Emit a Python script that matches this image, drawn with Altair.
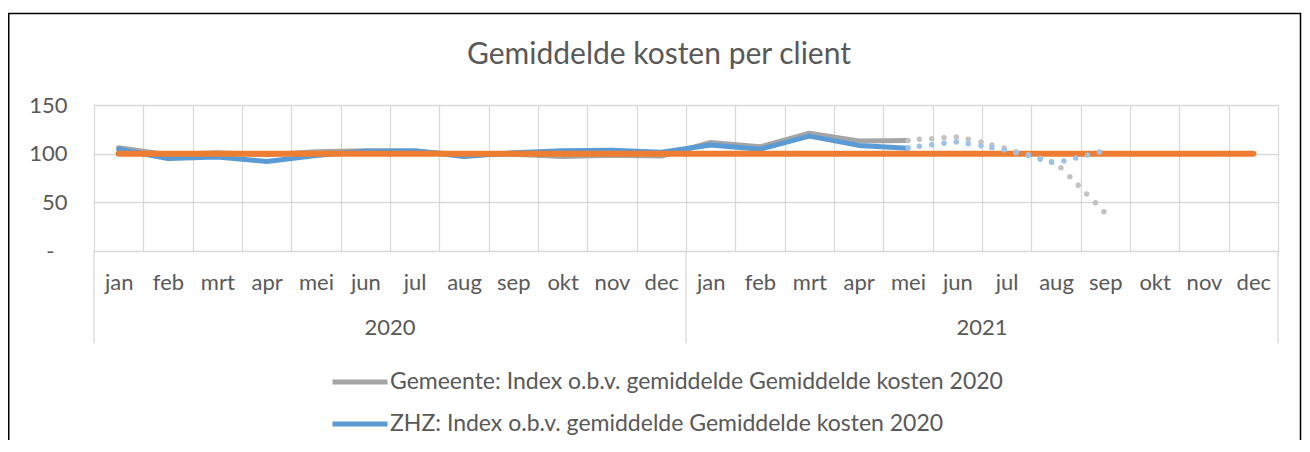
import altair as alt
import pandas as pd

# ---------------- data ----------------
months = ["jan", "feb", "mrt", "apr", "mei", "jun", "jul", "aug", "sep", "okt", "nov", "dec"]
years = ["2020", "2021"]
series_names = [
    "Gemeente: Index o.b.v. gemiddelde Gemiddelde kosten 2020",
    "ZHZ: Index o.b.v. gemiddelde Gemiddelde kosten 2020",
]
title_text = "Gemiddelde kosten per client"

# monthly index values, jan 2020 .. mei 2021
gemeente = [106, 99, 101, 99, 102, 103, 102.5, 99, 99.5, 97, 98.5, 97.5,
            111.5, 107, 121, 113, 113.5]
zhz = [104.5, 95, 96.5, 92, 98, 102.5, 103, 97, 101, 103, 103.5, 101.5,
       109, 104.5, 118, 108.5, 105.5]
# reference level (index = 100) for all 24 months
norm = [100, 100, 100, 100, 100, 100, 100, 100, 100, 100, 100, 100,
        100, 100, 100, 100, 100, 100, 100, 100, 100, 100, 100, 100]

# dotted trend lines (month position, value)
trend_pos_gemeente = [16.00, 16.23, 16.48, 16.73, 16.98, 17.22, 17.48, 17.70, 17.95, 18.19,
                      18.44, 18.68, 18.91, 19.10, 19.28, 19.45, 19.62, 19.80, 19.97]
trend_gemeente = [113.4, 114.8, 115.4, 116.4, 117.2, 114.8, 112.0, 108.9, 105.9, 102.1,
                  99.0, 95.3, 91.8, 85.6, 76.4, 67.5, 58.6, 49.6, 40.4]
trend_pos_zhz = [16.00, 16.23, 16.48, 16.73, 16.98, 17.22, 17.48, 17.70, 17.95, 18.19,
                 18.44, 18.68, 18.91, 19.16, 19.40, 19.64, 19.88]
trend_zhz = [106.2, 107.6, 109.2, 110.7, 112.0, 110.3, 108.2, 106.2, 103.8, 101.0,
             98.0, 94.2, 91.1, 92.5, 95.6, 98.7, 101.8]

y_ticks = [0, 50, 100, 150]

# ---------------- style ----------------
W, H = 1184, 146
FONT = "Lato"
TXT = "#595959"
GRID = "#D9D9D9"
GRAY = "#A5A5A5"
BLUE = "#5B9BD5"
ORANGE = "#ED7D31"
GRAY_T = "#C3C3C3"
BLUE_T = "#9DC3E6"
LBL = 22

n_months = len(months) * len(years)

# ---------------- tables ----------------
rows = []
for name, vals in zip(series_names, [gemeente, zhz]):
    for i, v in enumerate(vals):
        rows.append({"pos": i + 0.5, "value": v, "series": name})
lines_df = pd.DataFrame(rows)

norm_df = pd.DataFrame({"pos": [i + 0.5 for i in range(len(norm))], "value": norm})

trend_df = pd.DataFrame(
    [{"pos": p + 0.5, "value": v, "s": "g"} for p, v in zip(trend_pos_gemeente, trend_gemeente)]
    + [{"pos": p + 0.5, "value": v, "s": "z"} for p, v in zip(trend_pos_zhz, trend_zhz)]
)

year_df = pd.DataFrame({"pos": [len(months) * (k + 0.5) for k in range(len(years))],
                        "year": years})
sep_df = pd.DataFrame({"pos": [len(months) * k for k in range(len(years) + 1)]})

month_arr = "[" + ",".join("'%s'" % m for m in months) + "]"

x_axis = alt.Axis(
    values=list(range(n_months + 1)),
    grid=True, gridColor=GRID, gridWidth=1.3,
    domain=False, ticks=False,
    labelExpr="datum.value < %d ? %s[datum.value %% 12] : ''" % (n_months, month_arr),
    labelOffset=W / (2 * n_months), labelPadding=31, labelBaseline="middle",
    labelFont=FONT, labelFontSize=LBL, labelColor=TXT,
    labelFlush=False, labelOverlap=False, labelBound=False, title=None,
)
y_axis = alt.Axis(
    values=y_ticks,
    grid=True, gridColor=GRID, gridWidth=1.3,
    domain=False, ticks=False,
    labelExpr="datum.value == 0 ? '-' : datum.label",
    labelPadding={"condition": {"test": "datum.value == 0", "value": 40}, "value": 27},
    labelFont=FONT, labelFontSize=LBL, labelColor=TXT, title=None,
)

xs = alt.Scale(domain=[0, n_months], nice=False, zero=False)
ys = alt.Scale(domain=[0, 150], nice=False)

X = alt.X("pos:Q", scale=xs, title=None)
Y = alt.Y("value:Q", scale=ys, title=None)

lines = alt.Chart(lines_df).mark_line(strokeWidth=5, strokeCap="round", strokeJoin="round").encode(
    x=alt.X("pos:Q", scale=xs, axis=x_axis),
    y=alt.Y("value:Q", scale=ys, axis=y_axis),
    color=alt.Color(
        "series:N",
        scale=alt.Scale(domain=series_names, range=[GRAY, BLUE]),
        legend=alt.Legend(
            orient="none", legendX=236, legendY=247, direction="vertical",
            symbolType="stroke", symbolSize=3025, symbolStrokeWidth=5,
            labelFont=FONT, labelFontSize=23, labelColor=TXT, labelLimit=0,
            labelOffset=0, rowPadding=-8, title=None,
        ),
    ),
    detail="series:N",
)

norm_line = alt.Chart(norm_df).mark_line(
    strokeWidth=6, strokeCap="round", color=ORANGE
).encode(x=X, y=Y)

trend_g = alt.Chart(trend_df).transform_filter("datum.s == 'g'").mark_circle(
    size=30, opacity=1, color=GRAY_T
).encode(x=X, y=Y)
trend_z = alt.Chart(trend_df).transform_filter("datum.s == 'z'").mark_circle(
    size=30, opacity=1, color=BLUE_T
).encode(x=X, y=Y)

seps = alt.Chart(sep_df).mark_rule(color=GRID, strokeWidth=1.3).encode(
    x=X,
    y=alt.value(H),
    y2=alt.value(H + 92),
)

year_labels = alt.Chart(year_df).mark_text(
    font=FONT, fontSize=LBL, color=TXT, baseline="middle", align="center"
).encode(
    x=X,
    y=alt.value(H + 77),
    text="year:N",
)

title = alt.Chart(pd.DataFrame({"t": [title_text]})).mark_text(
    font=FONT, fontSize=30, color=TXT, baseline="middle", align="center"
).encode(
    x=alt.value(565), y=alt.value(-50), text="t:N"
)

border = alt.Chart(pd.DataFrame({"k": [0]})).mark_rect(
    fillOpacity=0, stroke="black", strokeWidth=1.5
).encode(
    x=alt.value(-85.25), x2=alt.value(W + 22.5),
    y=alt.value(-91.5), y2=alt.value(H + 300),
)

chart = alt.layer(
    lines, norm_line, trend_g, trend_z, seps, year_labels, title, border
).properties(
    width=W, height=H,
    autosize=alt.AutoSizeParams(type="none"),
    padding={"left": 86, "top": 97, "right": 24, "bottom": 189},
).configure_view(stroke=None).configure(background="white")

chart.save("out.html", embed_options={"renderer": "svg", "actions": False})
